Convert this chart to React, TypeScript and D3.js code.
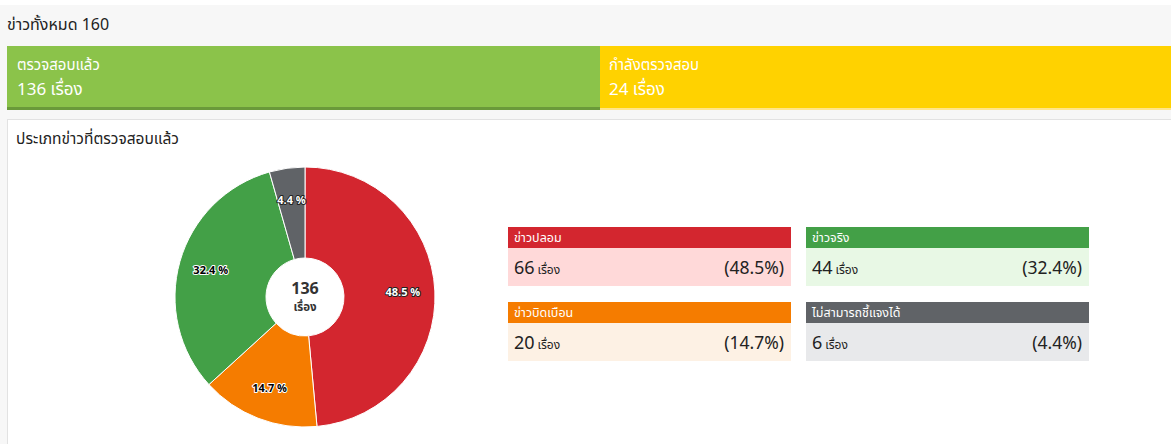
import React from "react";
import * as d3 from "d3";

const categories = ["ข่าวปลอม", "ข่าวบิดเบือน", "ข่าวจริง", "ไม่สามารถชี้แจงได้"];
const values = [66, 20, 44, 6];
const percentLabels = ["48.5", "14.7", "32.4", "4.4"];
const sliceColors = ["#d3262f", "#f57c00", "#43a047", "#606367"];
const cardBodyColors = ["#ffd9d9", "#fdf1e4", "#e8f8e5", "#e8e9eb"];
const labelFill = ["#ffffff", "#000000", "#000000", "#ffffff"];
const labelStroke = ["#222222", "#ffffff", "#ffffff", "#222222"];
const totalAll = 160;
const checked = 136;
const checking = 24;

const FONT = "'Noto Sans Thai', 'Kanit', 'Prompt', 'Noto Sans', 'DejaVu Sans', sans-serif";

export default function App() {
  const W = 1171, H = 444;
  const cx = 305, cy = 297, R = 130, r0 = 39;
  const pie = d3.pie<number>().sort(null).value((d) => d)(values);
  const arc = d3.arc<d3.PieArcDatum<number>>().innerRadius(r0).outerRadius(R);
  const labelArc = d3.arc<d3.PieArcDatum<number>>().innerRadius(98).outerRadius(98);

  const splitX = 600;
  const cardPos = [
    { x: 508, y: 227 },
    { x: 508, y: 302 },
    { x: 806, y: 227 },
    { x: 806, y: 302 },
  ];
  const cardW = 283, headH = 21, bodyH = 38;

  return (
    <svg width={W} height={H} style={{ position: "absolute", left: 0, top: 0, fontFamily: FONT }}>
      <rect x={0} y={0} width={W} height={H} fill="#ffffff" />
      <rect x={0} y={5} width={W} height={H - 5} fill="#f7f7f7" />
      <text x={7} y={30} fontSize={16} fill="#222">{`ข่าวทั้งหมด ${totalAll}`}</text>
      {/* status bars */}
      <rect x={7} y={46} width={splitX - 7} height={64} fill="#8bc34a" />
      <rect x={7} y={107} width={splitX - 7} height={3} fill="#6a9a3a" />
      <rect x={splitX} y={46} width={W - splitX} height={64} fill="#ffd200" />
      <rect x={splitX} y={108} width={W - splitX} height={2} fill="#ffe58a" />
      <text x={17} y={70} fontSize={15} fill="#fff">ตรวจสอบแล้ว</text>
      <text x={17} y={95} fontSize={17} fill="#fff">{`${checked} เรื่อง`}</text>
      <text x={609} y={70} fontSize={15} fill="#fff">กำลังตรวจสอบ</text>
      <text x={609} y={95} fontSize={17} fill="#fff">{`${checking} เรื่อง`}</text>
      {/* white panel */}
      <rect x={7.5} y={119.5} width={W} height={H} fill="#ffffff" stroke="#e2e2e2" />
      <text x={16} y={144} fontSize={15.5} fill="#222">ประเภทข่าวที่ตรวจสอบแล้ว</text>
      {/* pie */}
      <g transform={`translate(${cx},${cy})`}>
        {pie.map((p, i) => (
          <path key={i} d={arc(p) || ""} fill={sliceColors[i]} stroke="#fff" strokeWidth={1} />
        ))}
        {pie.map((p, i) => {
          const [lx, ly] = labelArc.centroid(p);
          return (
            <text
              key={"l" + i}
              x={lx}
              y={ly}
              dy="0.35em"
              textAnchor="middle"
              fontSize={11}
              fontWeight="bold"
              fill={labelFill[i]}
              stroke={labelStroke[i]}
              strokeWidth={2}
              paintOrder="stroke"
              strokeLinejoin="round"
            >{`${percentLabels[i]} %`}</text>
          );
        })}
        <text x={0} y={-3} textAnchor="middle" fontSize={16} fontWeight="bold" fill="#333">{checked}</text>
        <text x={0} y={14} textAnchor="middle" fontSize={11.5} fontWeight="bold" fill="#333">เรื่อง</text>
      </g>
      {/* legend cards */}
      {categories.map((c, i) => {
        const { x, y } = cardPos[i];
        return (
          <g key={"c" + i}>
            <rect x={x} y={y} width={cardW} height={headH} fill={sliceColors[i]} />
            <rect x={x} y={y + headH} width={cardW} height={bodyH} fill={cardBodyColors[i]} />
            <text x={x + 6} y={y + 15} fontSize={12.5} fill="#fff">{c}</text>
            <text x={x + 6} y={y + headH + 26} fill="#222">
              <tspan fontSize={18}>{values[i]}</tspan>
              <tspan fontSize={12} dx={3}>เรื่อง</tspan>
            </text>
            <text x={x + cardW - 7} y={y + headH + 26} fontSize={17.5} textAnchor="end" fill="#222">{`(${percentLabels[i]}%)`}</text>
          </g>
        );
      })}
    </svg>
  );
}
